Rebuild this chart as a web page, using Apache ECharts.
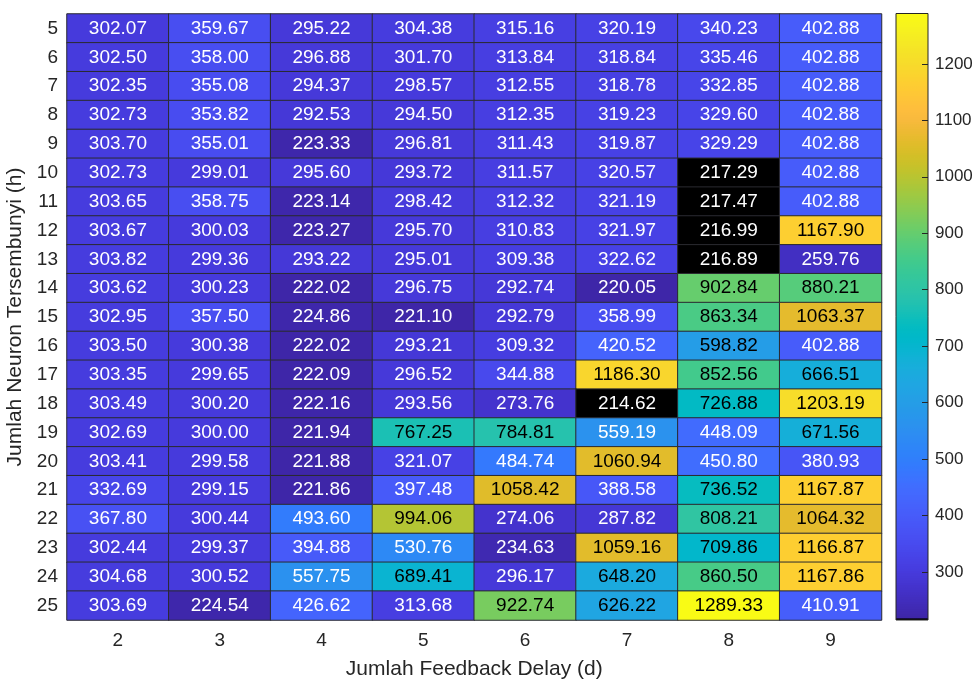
<!DOCTYPE html>
<html>
<head>
<meta charset="utf-8">
<script src="https://cdn.jsdelivr.net/npm/echarts@6/dist/echarts.min.js"></script>
<style>
  html, body { margin: 0; padding: 0; background: #fff; }
  #chart { width: 974px; height: 680px; }
</style>
</head>
<body>
<div id="chart"></div>
<script>
// columns: feedback delay d, rows: hidden neurons h
const delays  = ['2', '3', '4', '5', '6', '7', '8', '9']
const neurons = ['5', '6', '7', '8', '9', '10', '11', '12', '13', '14', '15',
                 '16', '17', '18', '19', '20', '21', '22', '23', '24', '25']

// one row per neuron count, one entry per delay
const rmse = [
  [302.07, 359.67, 295.22, 304.38, 315.16, 320.19, 340.23, 402.88],
  [302.50, 358.00, 296.88, 301.70, 313.84, 318.84, 335.46, 402.88],
  [302.35, 355.08, 294.37, 298.57, 312.55, 318.78, 332.85, 402.88],
  [302.73, 353.82, 292.53, 294.50, 312.35, 319.23, 329.60, 402.88],
  [303.70, 355.01, 223.33, 296.81, 311.43, 319.87, 329.29, 402.88],
  [302.73, 299.01, 295.60, 293.72, 311.57, 320.57, 217.29, 402.88],
  [303.65, 358.75, 223.14, 298.42, 312.32, 321.19, 217.47, 402.88],
  [303.67, 300.03, 223.27, 295.70, 310.83, 321.97, 216.99, 1167.90],
  [303.82, 299.36, 293.22, 295.01, 309.38, 322.62, 216.89, 259.76],
  [303.62, 300.23, 222.02, 296.75, 292.74, 220.05, 902.84, 880.21],
  [302.95, 357.50, 224.86, 221.10, 292.79, 358.99, 863.34, 1063.37],
  [303.50, 300.38, 222.02, 293.21, 309.32, 420.52, 598.82, 402.88],
  [303.35, 299.65, 222.09, 296.52, 344.88, 1186.30, 852.56, 666.51],
  [303.49, 300.20, 222.16, 293.56, 273.76, 214.62, 726.88, 1203.19],
  [302.69, 300.00, 221.94, 767.25, 784.81, 559.19, 448.09, 671.56],
  [303.41, 299.58, 221.88, 321.07, 484.74, 1060.94, 450.80, 380.93],
  [332.69, 299.15, 221.86, 397.48, 1058.42, 388.58, 736.52, 1167.87],
  [367.80, 300.44, 493.60, 994.06, 274.06, 287.82, 808.21, 1064.32],
  [302.44, 299.37, 394.88, 530.76, 234.63, 1059.16, 709.86, 1166.87],
  [304.68, 300.52, 557.75, 689.41, 296.17, 648.20, 860.50, 1167.86],
  [303.69, 224.54, 426.62, 313.68, 922.74, 626.22, 1289.33, 410.91],
]

const colorbarTicks = [300, 400, 500, 600, 700, 800, 900, 1000, 1100, 1200]

// parula(64), first bin of the 256 map is black
const parula = [
  [0.2422,0.1504,0.6603],[0.2504,0.1650,0.7076],[0.2578,0.1818,0.7511],[0.2647,0.1978,0.7952],
  [0.2706,0.2147,0.8364],[0.2751,0.2342,0.8710],[0.2783,0.2559,0.8991],[0.2803,0.2782,0.9221],
  [0.2813,0.3006,0.9414],[0.2810,0.3228,0.9579],[0.2795,0.3447,0.9717],[0.2760,0.3667,0.9829],
  [0.2699,0.3892,0.9906],[0.2602,0.4123,0.9952],[0.2440,0.4358,0.9988],[0.2206,0.4603,0.9973],
  [0.1963,0.4847,0.9892],[0.1834,0.5074,0.9798],[0.1786,0.5289,0.9682],[0.1764,0.5499,0.9520],
  [0.1687,0.5703,0.9359],[0.1540,0.5902,0.9218],[0.1460,0.6091,0.9079],[0.1380,0.6276,0.8973],
  [0.1248,0.6459,0.8883],[0.1113,0.6635,0.8763],[0.0952,0.6798,0.8598],[0.0689,0.6948,0.8394],
  [0.0297,0.7082,0.8163],[0.0036,0.7203,0.7917],[0.0067,0.7312,0.7660],[0.0433,0.7411,0.7394],
  [0.0964,0.7500,0.7120],[0.1408,0.7584,0.6842],[0.1717,0.7670,0.6554],[0.1938,0.7758,0.6251],
  [0.2161,0.7843,0.5923],[0.2470,0.7918,0.5567],[0.2906,0.7973,0.5188],[0.3406,0.8008,0.4789],
  [0.3909,0.8029,0.4354],[0.4456,0.8024,0.3909],[0.5044,0.7993,0.3480],[0.5616,0.7942,0.3045],
  [0.6174,0.7876,0.2612],[0.6720,0.7793,0.2227],[0.7242,0.7698,0.1910],[0.7738,0.7598,0.1646],
  [0.8203,0.7498,0.1535],[0.8634,0.7406,0.1596],[0.9035,0.7330,0.1774],[0.9393,0.7288,0.2100],
  [0.9728,0.7298,0.2394],[0.9956,0.7434,0.2371],[0.9970,0.7659,0.2199],[0.9952,0.7893,0.2028],
  [0.9892,0.8136,0.1885],[0.9786,0.8386,0.1766],[0.9676,0.8639,0.1643],[0.9610,0.8890,0.1537],
  [0.9597,0.9135,0.1423],[0.9628,0.9373,0.1265],[0.9691,0.9606,0.1064],[0.9769,0.9839,0.0805],
]

function parulaAt(t) {
  const p = t * (parula.length - 1)
  const i = Math.min(parula.length - 2, Math.floor(p))
  const f = p - i
  return parula[i].map((c, k) => c + (parula[i + 1][k] - c) * f)
}
const cmap = [[0, 0, 0]]
for (let k = 1; k < 256; k++) cmap.push(parulaAt((k - 1) / 254))

const toHex = c => '#' + c.map(x => Math.round(x * 255).toString(16).padStart(2, '0')).join('')

const flat = rmse.flat()
const cMin = Math.min(...flat)
const cMax = Math.max(...flat)

function binOf(v) {
  const t = (v - cMin) / (cMax - cMin)
  return Math.max(0, Math.min(255, Math.floor(t * 256)))
}

// dense stop list so the continuous mapping behaves like the stepped colormap
const N = 1024
const stops = []
for (let j = 0; j < N; j++) stops.push(toHex(cmap[Math.min(255, Math.floor(j / (N - 1) * 256))]))

const data = []
rmse.forEach((row, yi) => row.forEach((v, xi) => {
  const c = cmap[binOf(v)]
  const lum = 0.299 * c[0] + 0.587 * c[1] + 0.114 * c[2]
  data.push({ value: [xi, yi, v], label: { color: lum > 0.5 ? '#000' : '#fff' } })
}))

const font = '"Liberation Sans", Arial, Helvetica, sans-serif'
const ink = '#262626'

const chart = echarts.init(document.getElementById('chart'))
chart.setOption({
  animation: false,
  textStyle: { fontFamily: font },
  grid: [
    { left: 67, top: 14, width: 814.5, height: 606, outerBoundsMode: 'none' },
    { left: 896, top: 13.5, width: 32, height: 606.5, outerBoundsMode: 'none' },
  ],
  xAxis: [
    {
      type: 'category', data: delays, gridIndex: 0, position: 'bottom',
      axisLine: { show: false }, axisTick: { show: false }, splitLine: { show: false },
      axisLabel: { fontSize: 19, color: ink, margin: 11, fontFamily: font },
      name: 'Jumlah Feedback Delay (d)', nameLocation: 'middle', nameGap: 39,
      nameTextStyle: { fontSize: 21, color: ink, fontFamily: font },
    },
    { type: 'value', gridIndex: 1, min: 0, max: 1, show: false, axisLine: { onZero: false } },
  ],
  yAxis: [
    {
      type: 'category', data: neurons, gridIndex: 0, inverse: true,
      axisLine: { show: false }, axisTick: { show: false }, splitLine: { show: false },
      axisLabel: { fontSize: 19, color: ink, margin: 9, fontFamily: font },
      name: 'Jumlah Neuron Tersembunyi (h)', nameLocation: 'middle', nameGap: 33, nameRotate: 90,
      nameTextStyle: { fontSize: 21, color: ink, fontFamily: font },
    },
    {
      type: 'value', gridIndex: 1, min: cMin, max: cMax, position: 'right', z: 10,
      axisLine: { show: false, onZero: false }, splitLine: { show: false },
      axisTick: { show: true, inside: true, length: 6, customValues: colorbarTicks, lineStyle: { color: ink, width: 1 } },
      axisLabel: {
        fontSize: 17, color: ink, margin: 7, customValues: colorbarTicks, fontFamily: font,
        formatter: v => String(v),
      },
    },
  ],
  visualMap: {
    show: false, type: 'continuous', seriesIndex: 0,
    min: cMin, max: cMax, inRange: { color: stops },
  },
  series: [
    {
      type: 'heatmap', xAxisIndex: 0, yAxisIndex: 0, data,
      itemStyle: { borderColor: '#2a2a30', borderWidth: 1 },
      label: {
        show: true, fontSize: 19, fontFamily: font,
        formatter: p => p.value[2].toFixed(2),
      },
      emphasis: { disabled: true },
    },
    {
      type: 'custom', xAxisIndex: 1, yAxisIndex: 1, z: 0, silent: true,
      data: [[0, cMin, 1, cMax]],
      renderItem: (params, api) => {
        const p0 = api.coord([api.value(0), api.value(1)])
        const p1 = api.coord([api.value(2), api.value(3)])
        return {
          type: 'rect',
          shape: { x: p0[0], y: p1[1], width: p1[0] - p0[0], height: p0[1] - p1[1] },
          style: {
            fill: new echarts.graphic.LinearGradient(0, 1, 0, 0,
              stops.map((c, j) => ({ offset: j / (N - 1), color: c }))),
            stroke: ink, lineWidth: 1,
          },
        }
      },
    },
  ],
})
</script>
</body>
</html>
